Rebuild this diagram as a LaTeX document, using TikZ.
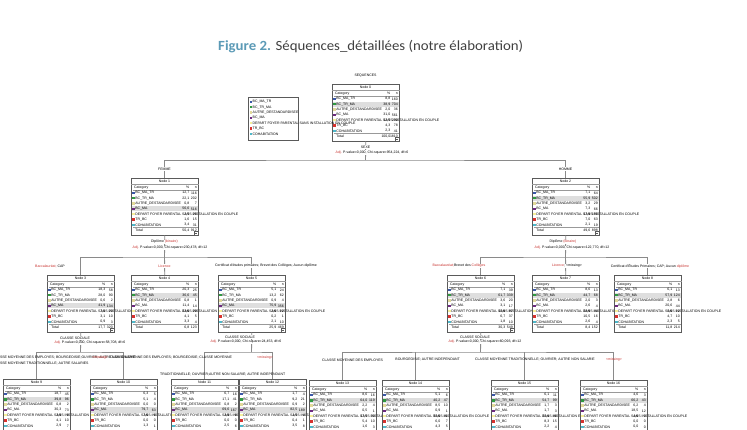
\documentclass[tikz,border=0pt]{standalone}
\usepackage{fontspec}
\usepackage{graphicx}
\setmainfont{Liberation Sans}
\newfontfamily\treefont{Liberation Sans}
\newfontfamily\titlefont{Carlito}
\usetikzlibrary{positioning}

\definecolor{figblue}{HTML}{5B9AB6}
\definecolor{figgray}{HTML}{404040}
\definecolor{boxgray}{HTML}{5A5A5A}
\definecolor{linegray}{HTML}{8A8A8A}
\definecolor{flagred}{HTML}{C8302C}
\definecolor{cat1}{HTML}{3B58A8}
\definecolor{cat2}{HTML}{2E9A40}
\definecolor{cat3}{HTML}{E2DA9A}
\definecolor{cat4}{HTML}{6E2A80}
\definecolor{cat5}{HTML}{F6F09A}
\definecolor{cat6}{HTML}{D8322E}
\definecolor{cat7}{HTML}{4CB8CA}

\tikzset{
    treebox/.style={
        draw=boxgray,
        fill=white,
        line width=0.5pt,
        inner sep=0pt,
        minimum width=67pt,
        minimum height=57pt,
        anchor=north west},
    legendbox/.style={treebox, minimum width=50pt, minimum height=43pt},
    cell/.style={inner sep=0pt, font=\treefont\fontsize{3.5}{4}\selectfont},
    branch/.style={cell, font=\treefont\fontsize{3.5}{6}\selectfont},
    split/.style={cell, fill=white, inner sep=0.6pt},
    link/.style={draw=linegray, line width=0.9pt},
    rule/.style={draw=black!40, line width=0.3pt},
    rowhl/.style={fill=black!13},
    collapse/.style={draw=boxgray, fill=white, line width=0.3pt}}

\newcommand{\catlabel}[1]{\ifcase#1\or BC\_MA\_TR\or BC\_TR\_MA\or AUTRE\_DESTANDARDISEE\or BC\_MA\or DEPART FOYER PARENTAL SANS INSTALLATION EN COUPLE\or TR\_BC\or COHABITATION\fi}
\newcommand{\flag}[1]{\textcolor{flagred}{#1}}

% tree node: name, top left, number, highlighted row, rows %/n, total %, total n (empty: cut off)
\newcommand{\treenode}[7]{%
    \node[treebox] (#1) at (#2) {};
    \node[cell] (#1t) at ([shift={(33.5,3.2)}]#1.north west) {Node #3};
    \draw[rule] ([shift={(0,6.3)}]#1.north west) -- ([shift={(0,6.3)}]#1.north east);
    \fill[rowhl] ([shift={(0.5,{12.4+5.3*(#4-1)})}]#1.north west) rectangle ([shift={(-0.5,{17.6+5.3*(#4-1)})}]#1.north east);
    \node[cell, anchor=west] (#1c) at ([shift={(3,9.5)}]#1.north west) {Category};
    \node[cell, anchor=east] (#1p) at ([shift={(-9,9.5)}]#1.north east) {\%};
    \node[cell, anchor=east] (#1n) at ([shift={(-1.5,9.5)}]#1.north east) {n};
    \draw[rule] ([shift={(2,12)}]#1.north west) -- ([shift={(-1,12)}]#1.north east);
    \foreach \p/\n [count=\i] in {#5} {
        \fill[fill=cat\i] ([shift={(1.2,{13.8+5.3*(\i-1)})}]#1.north west) rectangle ++(2.4,2.4);
        \node[cell, anchor=west] (#1l\i) at ([shift={(4.2,{15+5.3*(\i-1)})}]#1.north west) {\catlabel{\i}};
        \node[cell, anchor=east] (#1p\i) at ([shift={(-9,{15+5.3*(\i-1)})}]#1.north east) {\p};
        \node[cell, anchor=east] (#1n\i) at ([shift={(-1.5,{15+5.3*(\i-1)})}]#1.north east) {\n};
    }
    \if\relax\detokenize{#7}\relax\else
    \draw[rule] ([shift={(2,49.2)}]#1.north west) -- ([shift={(-1,49.2)}]#1.north east);
    \node[cell, anchor=west] (#1tl) at ([shift={(4.2,52.6)}]#1.north west) {Total};
    \node[cell, anchor=east] (#1tp) at ([shift={(-9,52.6)}]#1.north east) {#6};
    \node[cell, anchor=east] (#1tn) at ([shift={(-1.5,52.6)}]#1.north east) {#7};
    \fi
}

\begin{document}
\begin{tikzpicture}[x=1pt, y=-1pt]
    \useasboundingbox (0,0) rectangle (747,430);
    \clip (0,0) rectangle (747,430);

    \node[anchor=west, inner sep=0pt] (title) at (218,47) {\resizebox{305pt}{\height}{\titlefont\fontsize{14}{16}\selectfont\textcolor{figblue}{\bfseries Figure 2.} \textcolor{figgray}{Séquences\_détaillées (notre élaboration)}}};

    % level 0
    \treenode{n0}{332,84}{0}{2}{{8,8}/160,{38,9}/704,{2,0}/36,{31,0}/561,{12,7}/230,{4,3}/78,{2,3}/41}{100,0}{1810}
    \node[legendbox] (legend) at (248,97) {};
    \foreach \i in {1,...,7} {
        \fill[fill=cat\i] ([shift={(1.5,{3.8+5.3*(\i-1)})}]legend.north west) rectangle ++(2.4,2.4);
        \node[cell, anchor=west] (leg\i) at ([shift={(4.5,{5+5.3*(\i-1)})}]legend.north west) {\catlabel{\i}};
    }

    % level 1
    \treenode{n1}{131,178}{1}{4}{{12,7}/116,{22,1}/202,{0,8}/7,{56,6}/516,{2,7}/25,{1,6}/15,{3,4}/31}{50,4}{912}
    \treenode{n2}{532,178}{2}{2}{{7,1}/64,{55,9}/502,{3,2}/29,{7,3}/66,{17,3}/155,{7,0}/63,{2,1}/19}{49,6}{898}

    % level 2
    \treenode{n3}{47,275}{3}{4}{{18,3}/58,{28,0}/90,{0,6}/2,{41,9}/134,{7,2}/23,{3,1}/10,{0,9}/3}{17,7}{320}
    \treenode{n4}{131,275}{4}{2}{{20,3}/25,{36,6}/45,{0,8}/1,{11,4}/14,{23,6}/29,{4,1}/5,{3,3}/4}{6,8}{123}
    \treenode{n5}{218,275}{5}{4}{{5,1}/24,{13,2}/62,{0,9}/4,{75,9}/356,{2,6}/12,{0,2}/1,{2,1}/10}{25,9}{469}
    \treenode{n6}{447,275}{6}{2}{{7,1}/39,{61,7}/339,{3,6}/20,{3,1}/17,{15,8}/87,{6,7}/37,{1,8}/10}{30,3}{549}
    \treenode{n7}{532,275}{7}{2}{{8,6}/13,{44,7}/68,{2,0}/3,{2,6}/4,{28,9}/44,{10,5}/16,{2,6}/4}{8,4}{152}
    \treenode{n8}{614,275}{8}{2}{{6,1}/13,{57,9}/124,{2,8}/6,{20,6}/44,{5,6}/12,{4,7}/10,{2,3}/5}{11,8}{214}

    % level 3 (cut off at the bottom)
    \treenode{n9}{3,379}{9}{2}{{18,7}/45,{39,8}/96,{0,8}/2,{30,3}/73,{3,3}/8,{4,1}/10,{2,9}/7}{}{}
    \treenode{n10}{90,379}{10}{4}{{6,3}/5,{5,1}/4,{0,0}/0,{79,7}/63,{7,6}/6,{0,0}/0,{1,3}/1}{}{}
    \treenode{n11}{171,379}{11}{4}{{6,7}/16,{17,1}/41,{0,8}/2,{69,6}/167,{3,3}/8,{0,0}/0,{2,5}/6}{}{}
    \treenode{n12}{239,379}{12}{4}{{1,7}/4,{9,2}/21,{0,9}/2,{82,5}/189,{1,7}/4,{0,4}/1,{3,5}/8}{}{}
    \treenode{n13}{309,380}{13}{2}{{8,6}/16,{64,0}/119,{2,2}/4,{0,5}/1,{17,7}/33,{5,4}/10,{1,6}/3}{}{}
    \treenode{n14}{382,380}{14}{2}{{5,1}/6,{40,2}/47,{8,5}/10,{0,9}/1,{35,0}/41,{6,0}/7,{4,3}/5}{}{}
    \treenode{n15}{491,380}{15}{2}{{6,1}/11,{54,7}/99,{1,7}/3,{1,7}/3,{25,4}/46,{8,3}/15,{2,2}/4}{}{}
    \treenode{n16}{580,380}{16}{2}{{4,6}/3,{66,2}/43,{6,2}/4,{18,5}/12,{4,6}/3,{0,0}/0,{0,0}/0}{}{}

    % collapse marks
    \foreach \k in {n0,n1,n2,n3,n5,n6}
        \draw[collapse] ([shift={(-4.5,-4.5)}]\k.south east) rectangle ([shift={(-0.5,-0.5)}]\k.south east)
            ([shift={(-3.7,-2.5)}]\k.south east) -- ([shift={(-1.3,-2.5)}]\k.south east);

    % bars
    \coordinate (bar0) at (365.5,160);
    \coordinate (bar1) at (164.5,257);
    \coordinate (bar2) at (565.5,257);
    \coordinate (bar3) at (80.5,352);
    \coordinate (bar5) at (251.5,352);
    \coordinate (bar6) at (480.5,352);

    \draw[link] (n0.south) -- (bar0);
    \draw[link] (n1.north) |- (bar0) -| (n2.north);
    \draw[link] (n1.south) -- (bar1);
    \draw[link] (n3.north) |- (bar1) -| (n5.north);
    \draw[link] (bar1) -- (n4.north);
    \draw[link] (n2.south) -- (bar2);
    \draw[link] (n6.north) |- (bar2) -| (n8.north);
    \draw[link] (bar2) -- (n7.north);
    \draw[link] (n3.south) -- (bar3);
    \draw[link] (n9.north) |- (bar3) -| (n10.north);
    \draw[link] (n5.south) -- (bar5);
    \draw[link] (n11.north) |- (bar5) -| (n12.north);
    \draw[link] (n6.south) -- (bar6);
    \draw[link] (n13.north) |- (bar6) -| (n16.north);
    \draw[link] (bar6 -| n14.north) -- (n14.north);
    \draw[link] (bar6 -| n15.north) -- (n15.north);

    % split labels
    \node[split] (seq) at (365.5,76) {SEQUENCES};
    \node[split] (sexe) at (365.5,147) {SEXE};
    \node[split] (adj0) at (372,152.5) {\flag{Adj.} P-value=0,000, Chi-square=954,224, df=6};
    \node[split] (femme) at (164.5,169) {FEMME};
    \node[split] (homme) at (565.5,169) {HOMME};
    \node[split] (dip1) at (164.5,242) {Diplôme \flag{(binaire)}};
    \node[split] (adj1) at (170,248) {\flag{Adj.} P-value=0,000, Chi-square=230,478, df=12};
    \node[split] (dip2) at (563,242) {Diplôme \flag{(binaire)}};
    \node[split] (adj2) at (572,248) {\flag{Adj.} P-value=0,000, Chi-square=122,770, df=12};
    \node[split] (lab3) at (50,266) {\flag{Baccalauréat;} CAP};
    \node[split] (lab4) at (164.5,266) {\flag{Licence}};
    \node[split] (lab5) at (266,266) {Certificat d'études primaires; Brevet des Collèges; Aucun diplôme};
    \node[split] (lab6) at (459,266) {\flag{Baccalauréat;}Brevet des \flag{Collèges}};
    \node[split] (lab7) at (567,266) {\flag{Licence}; <missing>};
    \node[split] (lab8) at (650,266) {Certificat d'Études Primaires; CAP; Aucun \flag{diplôme}};
    \node[split] (cs3) at (75,338) {CLASSE SOCIALE};
    \node[split] (adj3) at (90,343) {\flag{Adj.} P-value=0,000, Chi-square=58,708, df=6};
    \node[split] (cs5) at (240,337) {CLASSE SOCIALE};
    \node[split] (adj5) at (246,342) {\flag{Adj.} P-value=0,000, Chi-square=24,453, df=6};
    \node[split] (cs6) at (475,337) {CLASSE SOCIALE};
    \node[split] (adj6) at (485,342) {\flag{Adj.} P-value=0,000, Chi-square=60,093, df=12};

    % level 3 branch labels
    \node[branch, anchor=north west, align=left] (lab9) at (-7,355.5) {CLASSE MOYENNE DES EMPLOYES; BOURGEOISIE;OUVRIER; AUTRE NON SALARIE\\CLASSE MOYENNE TRADITIONNELLE; AUTRE SALARIES};
    \node[cell, text=flagred] (lab10) at (100,358) {<missing>};
    \node[cell, anchor=west] (lab11a) at (110,358) {CLASSE MOYENNE DES EMPLOYES; BOURGEOISIE; CLASSE MOYENNE};
    \node[cell, anchor=west] (lab11b) at (160,375) {TRADITIONNELLE; OUVRIER;AUTRE NON SALARIE; AUTRE INDEPENDANT};
    \node[cell, text=flagred] (lab12) at (265,358) {<missing>};
    \node[cell, anchor=west] (lab13) at (322,360) {CLASSE MOYENNE DES EMPLOYES};
    \node[cell, anchor=east] (lab14) at (460,360) {BOURGEOISIE; AUTRE INDEPENDANT};
    \node[cell, anchor=west] (lab15) at (475,360) {CLASSE MOYENNE TRADITIONNELLE; OUVRIER; AUTRE NON SALARIE};
    \node[cell, text=flagred] (lab16) at (614,360) {<missing>};
\end{tikzpicture}
\end{document}
